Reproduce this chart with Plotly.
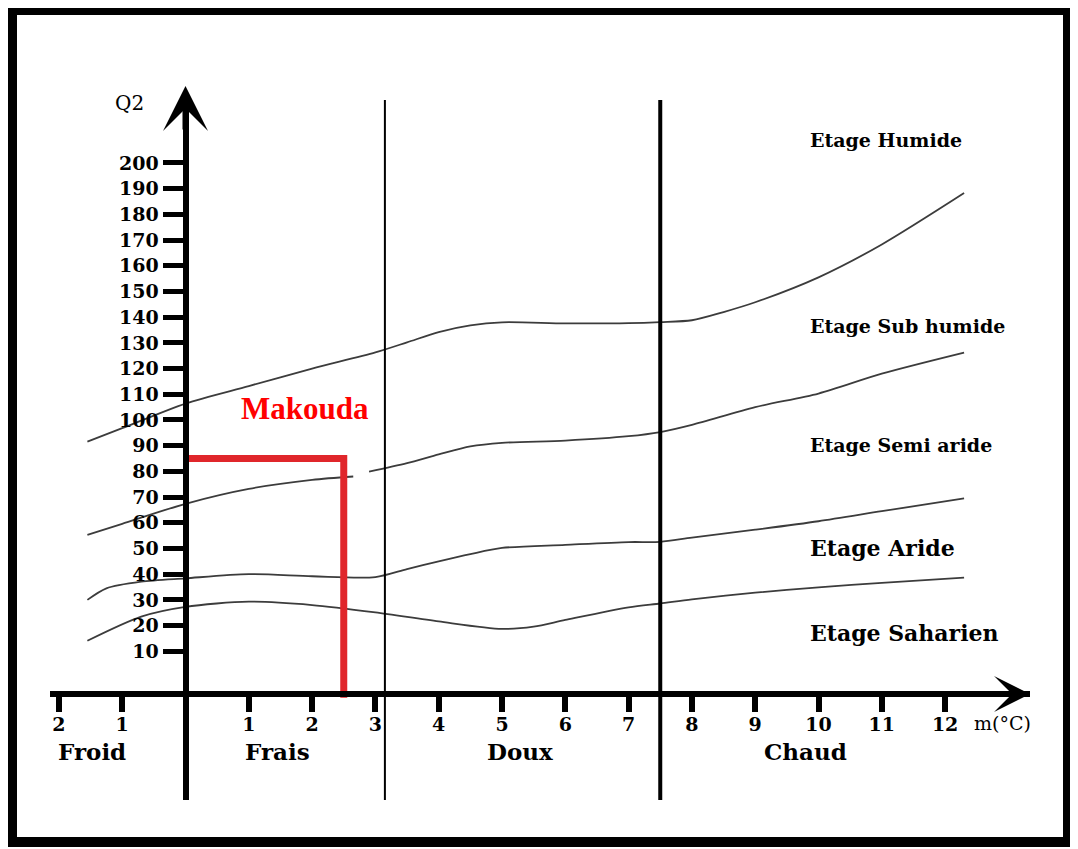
import plotly.graph_objects as go

# Emberger climagram (Q2 vs m) with the Makouda station

# limit between Etage Humide and Etage Sub humide
m_humide = [-1.55, -1, 0, 1, 2, 3, 3.5, 4, 4.5, 5, 6, 7, 7.5, 8, 8.5, 9, 10, 11, 12.3]
q2_humide = [91.6, 96.8, 106.4, 113.2, 120.0, 126.3, 130.2, 134.2, 136.8, 138.0,
             137.6, 137.7, 138.1, 138.8, 142.0, 145.8, 155.5, 168.3, 188.3]

# limit between Sub humide and Semi aride (the drawing has a small gap near m=2.8)
m_subhumide = [-1.55, -1, 0, 1, 2, 2.65, None, 2.9, 3.5, 4, 4.5, 5, 6, 7, 7.5, 8, 9, 10, 11, 12.3]
q2_subhumide = [55.3, 59.6, 67.4, 73.2, 76.7, 78.0, None, 79.9, 83.2, 86.6, 89.7, 91.1,
                92.0, 93.7, 95.3, 98.1, 105.0, 110.3, 118.0, 126.2]

# limit between Semi aride and Aride
m_semiaride = [-1.55, -1.25, -0.7, 0, 1, 2, 3, 3.5, 4, 4.5, 5, 6, 7, 7.5, 8, 9, 10, 11, 12.3]
q2_semiaride = [30.0, 34.5, 37.1, 38.4, 40.0, 39.2, 38.9, 42.0, 45.0, 47.8, 50.2,
                51.4, 52.5, 52.6, 54.2, 57.3, 60.6, 64.5, 69.5]

# limit between Aride and Saharien
m_aride = [-1.55, -0.7, 0, 1, 2, 3, 4, 5, 5.5, 6, 7, 7.5, 8, 9, 10, 11, 12.3]
q2_aride = [14.1, 23.5, 27.3, 29.3, 28.0, 25.1, 21.6, 18.7, 19.6, 22.2, 27.1,
            28.6, 30.2, 32.8, 34.9, 36.6, 38.7]

etages = ["Etage Humide", "Etage Sub humide", "Etage Semi aride", "Etage Aride", "Etage Saharien"]
variantes = ["Froid", "Frais", "Doux", "Chaud"]
limites_variantes = [3.15, 7.5]

station = "Makouda"
station_m = 2.5
station_q2 = 85

x_tickvals = [-2, -1, 1, 2, 3, 4, 5, 6, 7, 8, 9, 10, 11, 12]
x_ticktext = ["2", "1", "1", "2", "3", "4", "5", "6", "7", "8", "9", "10", "11", "12"]
y_tickvals = [10, 20, 30, 40, 50, 60, 70, 80, 90, 100,
              110, 120, 130, 140, 150, 160, 170, 180, 190, 200]

X_RANGE = [-2.1406, 13.3412]
Y_RANGE = [-47.86, 224.5]
AXE_X_Q2 = -6.6  # where the drawn m axis crosses
SERIF = "DejaVu Serif"

fig = go.Figure()

for xs, ys in [(m_humide, q2_humide), (m_subhumide, q2_subhumide),
               (m_semiaride, q2_semiaride), (m_aride, q2_aride)]:
    fig.add_trace(go.Scatter(
        x=xs, y=ys, mode="lines", connectgaps=False, hoverinfo="skip",
        line=dict(color="#3c3c3c", width=1.8, shape="spline", smoothing=0.8),
    ))

# Makouda position
fig.add_trace(go.Scatter(
    x=[0, station_m, station_m], y=[station_q2, station_q2, AXE_X_Q2 - 1.5],
    mode="lines", hoverinfo="skip",
    line=dict(color="#e0262b", width=7),
))

# limits between the thermal variants
for i, lim in enumerate(limites_variantes):
    fig.add_shape(type="line", xref="x", yref="paper", x0=lim, x1=lim, y0=0, y1=1,
                  line=dict(color="black", width=2 if i == 0 else 4))

y_pos = (0 - X_RANGE[0]) / (X_RANGE[1] - X_RANGE[0])
x_pos = (AXE_X_Q2 - Y_RANGE[0]) / (Y_RANGE[1] - Y_RANGE[0])

# the page has an 8px body margin, so the figure is 8px smaller than the window
fig.update_layout(
    width=1070, height=841,
    margin=dict(l=42, r=48, t=92, b=49),
    paper_bgcolor="white", plot_bgcolor="white",
    showlegend=False,
    xaxis=dict(
        range=X_RANGE, anchor="free", position=x_pos,
        showgrid=False, zeroline=False,
        showline=True, linewidth=6, linecolor="black",
        ticks="outside", ticklen=15, tickwidth=6, tickcolor="black",
        tickvals=x_tickvals, ticktext=x_ticktext, ticklabelstandoff=-4,
        tickfont=dict(family=SERIF, size=19, color="black", weight="bold"),
    ),
    yaxis=dict(
        range=Y_RANGE, anchor="free", position=y_pos,
        showgrid=False, zeroline=False,
        showline=True, linewidth=6, linecolor="black",
        ticks="outside", ticklen=20, tickwidth=5, tickcolor="black",
        tickvals=y_tickvals,
        tickfont=dict(family=SERIF, size=19, color="black", weight="bold"),
    ),
)

# axis arrows
fig.add_annotation(x=0, y=1.02, xref="x", yref="paper", ax=0, ay=45, text="",
                   showarrow=True, arrowhead=3, arrowsize=1.25, arrowwidth=6,
                   arrowcolor="black", standoff=0)
fig.add_annotation(x=1.0, y=AXE_X_Q2, xref="paper", yref="y", ax=-45, ay=0, text="",
                   showarrow=True, arrowhead=3, arrowsize=1.0, arrowwidth=6,
                   arrowcolor="black", standoff=0)

# axis titles
fig.add_annotation(x=-0.89, y=1.0157, xref="x", yref="paper", text="Q2", showarrow=False,
                   font=dict(family=SERIF, size=20, color="black"))
fig.add_annotation(x=12.9, y=-17.9, xref="x", yref="y", text="m(°C)", showarrow=False,
                   font=dict(family=SERIF, size=19, color="black"))

# thermal variants
for name, xm in zip(variantes, [-1.48, 1.45, 5.28, 9.8]):
    fig.add_annotation(x=xm, y=-28.8, xref="x", yref="y", text=f"<b>{name}</b>",
                       showarrow=False, font=dict(family=SERIF, size=23, color="black"))

# bioclimatic stages
for name, yq, size in zip(etages, [209, 136.6, 90.3, 50.2, 17.1], [19, 19, 19, 22, 22]):
    fig.add_annotation(x=9.83, y=yq, xref="x", yref="y", xanchor="left", text=f"<b>{name}</b>",
                       showarrow=False, font=dict(family=SERIF, size=size, color="black"))

fig.add_annotation(x=1.89, y=104.3, xref="x", yref="y", text=f"<b>{station}</b>",
                   showarrow=False, font=dict(family="Liberation Serif", size=31, color="#ff0000"))

# frame around the figure
fig.add_shape(type="rect", xref="paper", yref="paper",
              x0=(12 - 50) / 980, x1=(1068 - 50) / 980,
              y0=(800 - 842) / 700, y1=(800 - 10) / 700,
              line=dict(color="black", width=10))

fig.write_html("out.html")
